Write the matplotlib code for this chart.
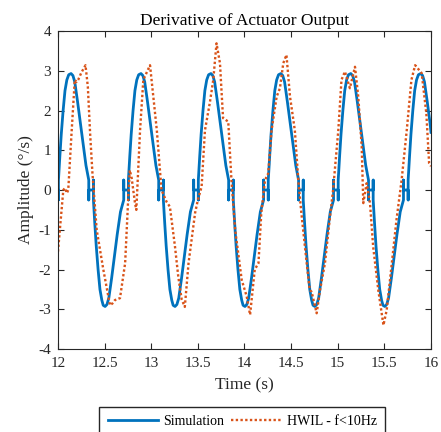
import matplotlib
matplotlib.use("Agg")
import matplotlib.pyplot as plt

# ------------------------
# Data
# ------------------------
# Simulation: one row per cycle (times in s, values in deg/s)
sim_t = [
    12.000, 12.005, 12.005, 12.005, 12.020, 12.035, 12.055, 12.075, 12.095, 12.115, 12.140,
    12.160, 12.180, 12.210, 12.240, 12.270, 12.300, 12.330, 12.330, 12.330, 12.380, 12.380, 12.380,
    12.395, 12.410, 12.430, 12.450, 12.470, 12.485, 12.505, 12.525, 12.545, 12.575, 12.605, 12.635, 12.670, 12.705,
    12.705, 12.705, 12.755, 12.755, 12.755, 12.770, 12.785, 12.805, 12.825, 12.845, 12.865, 12.890,
    12.910, 12.930, 12.960, 12.990, 13.020, 13.050, 13.080, 13.080, 13.080, 13.130, 13.130, 13.130,
    13.145, 13.160, 13.180, 13.200, 13.220, 13.235, 13.255, 13.275, 13.295, 13.325, 13.355, 13.385, 13.420, 13.455,
    13.455, 13.455, 13.505, 13.505, 13.505, 13.520, 13.535, 13.555, 13.575, 13.595, 13.615, 13.640,
    13.660, 13.680, 13.710, 13.740, 13.770, 13.800, 13.830, 13.830, 13.830, 13.880, 13.880, 13.880,
    13.895, 13.910, 13.930, 13.950, 13.970, 13.985, 14.005, 14.025, 14.045, 14.075, 14.105, 14.135, 14.170, 14.205,
    14.205, 14.205, 14.255, 14.255, 14.255, 14.270, 14.285, 14.305, 14.325, 14.345, 14.365, 14.390,
    14.410, 14.430, 14.460, 14.490, 14.520, 14.550, 14.580, 14.580, 14.580, 14.630, 14.630, 14.630,
    14.645, 14.660, 14.680, 14.700, 14.720, 14.735, 14.755, 14.775, 14.795, 14.825, 14.855, 14.885, 14.920, 14.955,
    14.955, 14.955, 15.005, 15.005, 15.005, 15.020, 15.035, 15.055, 15.075, 15.095, 15.115, 15.140,
    15.160, 15.180, 15.210, 15.240, 15.270, 15.300, 15.330, 15.330, 15.330, 15.380, 15.380, 15.380,
    15.395, 15.410, 15.430, 15.450, 15.470, 15.485, 15.505, 15.525, 15.545, 15.575, 15.605, 15.635, 15.670, 15.705,
    15.705, 15.705, 15.755, 15.755, 15.755, 15.770, 15.785, 15.805, 15.825, 15.845, 15.865, 15.890,
    15.910, 15.930, 15.960, 15.990, 16.000,
]
sim_y = [
    0.0, 0.0, -0.25, 0.25, 0.85, 1.40, 2.00, 2.50, 2.77, 2.90, 2.93,
    2.88, 2.72, 2.22, 1.68, 1.12, 0.62, 0.25, -0.25, 0.0, 0.0, 0.25, -0.25,
    -0.85, -1.40, -2.00, -2.50, -2.77, -2.90, -2.93, -2.88, -2.72, -2.22, -1.68, -1.12, -0.55, -0.25,
    0.25, 0.0, 0.0, -0.25, 0.25, 0.85, 1.40, 2.00, 2.50, 2.77, 2.90, 2.93,
    2.88, 2.72, 2.22, 1.68, 1.12, 0.62, 0.25, -0.25, 0.0, 0.0, 0.25, -0.25,
    -0.85, -1.40, -2.00, -2.50, -2.77, -2.90, -2.93, -2.88, -2.72, -2.22, -1.68, -1.12, -0.55, -0.25,
    0.25, 0.0, 0.0, -0.25, 0.25, 0.85, 1.40, 2.00, 2.50, 2.77, 2.90, 2.93,
    2.88, 2.72, 2.22, 1.68, 1.12, 0.62, 0.25, -0.25, 0.0, 0.0, 0.25, -0.25,
    -0.85, -1.40, -2.00, -2.50, -2.77, -2.90, -2.93, -2.88, -2.72, -2.22, -1.68, -1.12, -0.55, -0.25,
    0.25, 0.0, 0.0, -0.25, 0.25, 0.85, 1.40, 2.00, 2.50, 2.77, 2.90, 2.93,
    2.88, 2.72, 2.22, 1.68, 1.12, 0.62, 0.25, -0.25, 0.0, 0.0, 0.25, -0.25,
    -0.85, -1.40, -2.00, -2.50, -2.77, -2.90, -2.93, -2.88, -2.72, -2.22, -1.68, -1.12, -0.55, -0.25,
    0.25, 0.0, 0.0, -0.25, 0.25, 0.85, 1.40, 2.00, 2.50, 2.77, 2.90, 2.93,
    2.88, 2.72, 2.22, 1.68, 1.12, 0.62, 0.25, -0.25, 0.0, 0.0, 0.25, -0.25,
    -0.85, -1.40, -2.00, -2.50, -2.77, -2.90, -2.93, -2.88, -2.72, -2.22, -1.68, -1.12, -0.55, -0.25,
    0.25, 0.0, 0.0, -0.25, 0.25, 0.85, 1.40, 2.00, 2.50, 2.77, 2.90, 2.93,
    2.88, 2.72, 2.22, 1.68, 1.45,
]

# HWIL measurement (f < 10 Hz)
hwil_t = [
    12.000, 12.020, 12.057, 12.075, 12.095, 12.110, 12.147, 12.180, 12.200, 12.218, 12.250, 12.295,
    12.320, 12.345, 12.370, 12.415, 12.486, 12.540, 12.558, 12.585, 12.610, 12.665, 12.720, 12.754,
    12.770, 12.790, 12.826, 12.840, 12.880, 12.915, 12.940, 12.987, 13.060, 13.110, 13.165, 13.200,
    13.255, 13.290, 13.326, 13.360, 13.400, 13.470, 13.500, 13.540, 13.576, 13.630, 13.665, 13.700,
    13.737, 13.770, 13.826, 13.860, 13.900, 13.970, 14.024, 14.060, 14.110, 14.150, 14.180, 14.220,
    14.255, 14.290, 14.345, 14.380, 14.416, 14.450, 14.488, 14.540, 14.577, 14.610, 14.667, 14.700,
    14.720, 14.774, 14.810, 14.863, 14.917, 14.950, 15.006, 15.040, 15.077, 15.130, 15.185, 15.220,
    15.257, 15.274, 15.310, 15.346, 15.380, 15.435, 15.490, 15.525, 15.580, 15.630, 15.685, 15.740,
    15.790, 15.830, 15.900, 15.950, 15.980, 16.000,
]
hwil_y = [
    -1.55, -1.00, 0.00, 0.05, -0.08, 0.00, 1.50, 2.77, 2.72, 2.78, 2.95, 3.14,
    2.60, 1.40, 0.40, -1.00, -2.00, -2.68, -2.90, -2.85, -2.77, -2.72, -1.84, -0.17,
    0.50, 0.30, -0.33, -0.50, 1.50, 2.77, 2.90, 3.14, 1.50, 0.00, -0.30, -0.42,
    -1.43, -2.18, -2.75, -2.94, -1.84, -0.58, -0.25, 0.08, 1.50, 2.22, 2.77, 3.69,
    3.19, 1.81, 1.72, 0.25, -1.00, -2.26, -2.68, -3.14, -2.00, -1.84, -0.58, 0.25,
    0.42, 1.50, 2.35, 2.56, 3.19, 3.40, 2.35, 1.50, 0.25, -0.58, -1.84, -2.52,
    -2.56, -3.10, -2.52, -1.84, -0.67, 0.00, 1.50, 2.77, 2.98, 2.56, 3.10, 2.35,
    1.09, -0.33, 0.17, -0.33, -1.43, -2.52, -3.40, -3.02, -1.84, -0.75, 0.25, 1.50,
    2.77, 3.14, 2.94, 1.93, 0.67, 0.60,
]

x_ticks = [12, 12.5, 13, 13.5, 14, 14.5, 15, 15.5, 16]
x_tick_labels = ["12", "12.5", "13", "13.5", "14", "14.5", "15", "15.5", "16"]
y_ticks = [-4, -3, -2, -1, 0, 1, 2, 3, 4]
y_tick_labels = ["-4", "-3", "-2", "-1", "0", "1", "2", "3", "4"]

# ------------------------
# Plot
# ------------------------
plt.rcParams['font.family'] = ['Liberation Serif', 'DejaVu Serif']
plt.rcParams['axes.unicode_minus'] = False

fig = plt.figure(figsize=(4.41, 4.32), dpi=100)
ax = fig.add_axes([0.1315, 0.1921, 0.8458, 0.7361])

ax.plot(sim_t, sim_y, color='#0072BD', linewidth=2.0, label='Simulation')
ax.plot(hwil_t, hwil_y, color='#D95319', linewidth=1.7, linestyle=(0, (1, 1)),
        label='HWIL - f<10Hz')

ax.set_xlim(12, 16)
ax.set_ylim(-4, 4)
ax.set_xticks(x_ticks)
ax.set_xticklabels(x_tick_labels)
ax.set_yticks(y_ticks)
ax.set_yticklabels(y_tick_labels)

gray = '#262626'
ax.tick_params(direction='in', top=True, right=True, length=4, width=0.8,
               colors=gray, labelsize=11)
ax.tick_params(axis='x', pad=6)
ax.tick_params(axis='y', pad=5)
for s in ax.spines.values():
    s.set_color(gray)
    s.set_linewidth(0.8)

ax.set_title('Derivative of Actuator Output', fontsize=12.5, pad=4, color='black')
ax.set_xlabel('Time (s)', fontsize=12.5, color=gray, labelpad=5)
ax.set_ylabel('Amplitude (°/s)', fontsize=12.5, color=gray, labelpad=3)

ax.legend(loc='upper center', bbox_to_anchor=(0.549, 0.058), bbox_transform=fig.transFigure,
          ncol=2, fontsize=10, frameon=True, fancybox=False, edgecolor=gray,
          framealpha=1, borderpad=0.6, handlelength=3.6, handletextpad=0.4,
          columnspacing=0.5, borderaxespad=0)

fig.savefig('out.png', dpi=100)
